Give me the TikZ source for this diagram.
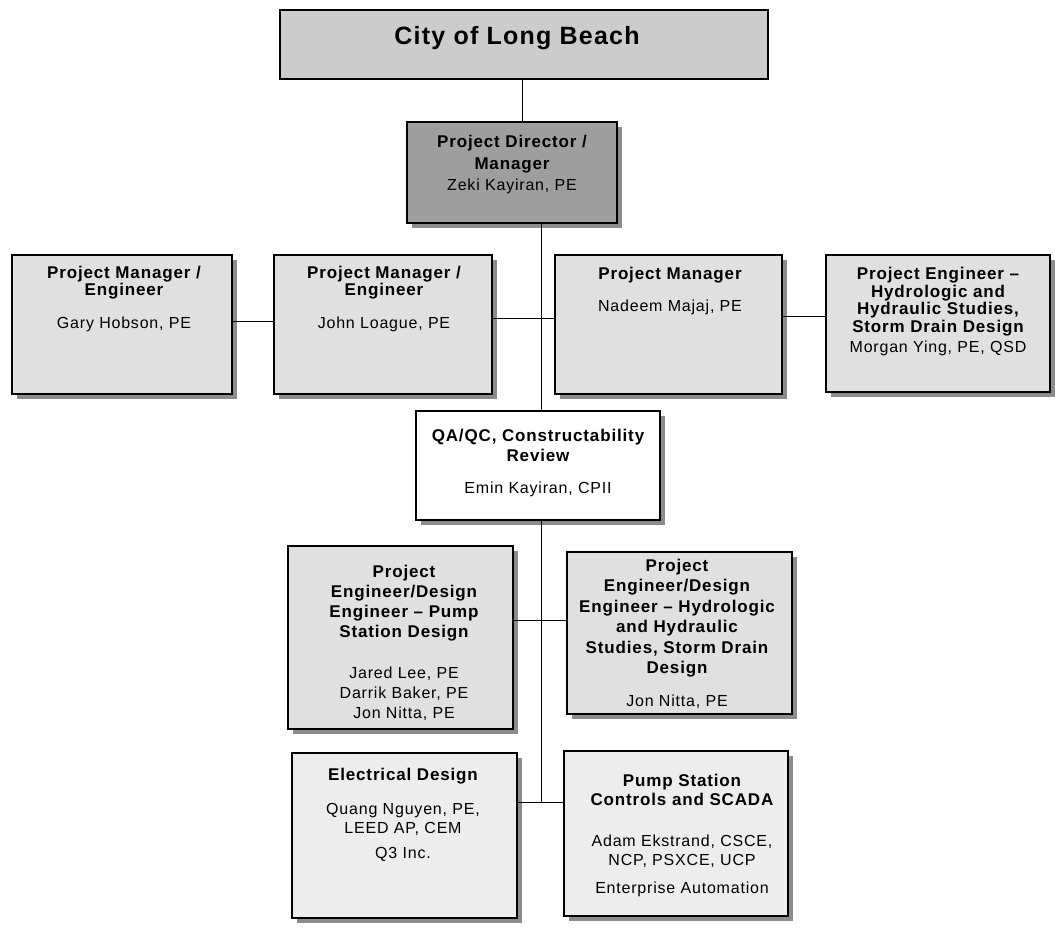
\documentclass[tikz,border=0pt]{standalone}
\usepackage{fontspec}
\setmainfont{Liberation Sans}[LetterSpace=5]
\usetikzlibrary{shadows}
\definecolor{topgray}{gray}{0.80}
\definecolor{dirgray}{gray}{0.62}
\definecolor{boxgray}{gray}{0.88}
\definecolor{lightgray}{gray}{0.93}
\definecolor{shadowgray}{gray}{0.55}
\newcommand\tb[1]{{\fontsize{17}{19}\selectfont\bfseries #1}}
\newcommand\nm[1]{{\fontsize{16}{19}\selectfont #1}}
\tikzset{
  box/.style={draw=black, line width=1.2pt, inner sep=0pt, outer sep=0pt},
  shad/.style={drop shadow={shadow xshift=5pt, shadow yshift=-5pt, fill=shadowgray, opacity=1}},
  lbl/.style={anchor=north, align=center, inner sep=0pt},
  conn/.style={draw=black, line width=0.9pt},
}
\begin{document}
\begin{tikzpicture}[x=1pt, y=-1pt]
\useasboundingbox (0,0) rectangle (1055,928);
% boxes
\node[box, fill=topgray, minimum width=488pt, minimum height=69pt] (top) at (524,44.5) {};
\node[box, shad, fill=dirgray, minimum width=210pt, minimum height=101pt] (dir) at (512,172.5) {};
\node[box, shad, fill=boxgray, minimum width=220pt, minimum height=139pt] (b1) at (122,324.5) {};
\node[box, shad, fill=boxgray, minimum width=218pt, minimum height=139pt] (b2) at (383,324.5) {};
\node[box, shad, fill=boxgray, minimum width=227pt, minimum height=139pt] (b3) at (668.5,324.5) {};
\node[box, shad, fill=boxgray, minimum width=224pt, minimum height=137pt] (b4) at (938,323.5) {};
\node[box, shad, fill=white, minimum width=244pt, minimum height=109pt] (qa) at (538,465.5) {};
\node[box, shad, fill=boxgray, minimum width=225pt, minimum height=183pt] (b5) at (400.5,637.5) {};
\node[box, shad, fill=boxgray, minimum width=225pt, minimum height=162pt] (b6) at (679.5,633) {};
\node[box, shad, fill=lightgray, minimum width=225pt, minimum height=165pt] (b7) at (404.5,835.5) {};
\node[box, shad, fill=lightgray, minimum width=224pt, minimum height=165pt] (b8) at (676,833.5) {};
% texts
\node[anchor=base, inner sep=0pt, font=\fontsize{25}{28}\selectfont\bfseries] (ttop) at (517,45) {City of Long Beach};
\node[lbl, font=\fontsize{17}{21.5}\selectfont] (tdir) at (512,135) {\tb{Project Director /}\\ \tb{Manager}\\ \nm{Zeki Kayiran, PE}};
\node[lbl, font=\fontsize{17}{17.5}\selectfont] (tb1) at (124,265.5) {\tb{Project Manager /}\\ \tb{Engineer}\\[15.5pt] \nm{Gary Hobson, PE}};
\node[lbl, font=\fontsize{17}{17.5}\selectfont] (tb2) at (384,265.5) {\tb{Project Manager /}\\ \tb{Engineer}\\[15.5pt] \nm{John Loague, PE}};
\node[lbl, font=\fontsize{17}{17.5}\selectfont] (tb3) at (670,266.5) {\tb{Project Manager}\\[14.5pt] \nm{Nadeem Majaj, PE}};
\node[lbl, font=\fontsize{17}{17.5}\selectfont] (tb4) at (938,267) {\tb{Project Engineer --}\\ \tb{Hydrologic and}\\ \tb{Hydraulic Studies,}\\ \tb{Storm Drain Design}\\[2.5pt] \nm{Morgan Ying, PE, QSD}};
\node[lbl, font=\fontsize{17}{20}\selectfont] (tqa) at (538,428.5) {\tb{QA/QC, Constructability}\\ \tb{Review}\\[12pt] \nm{Emin Kayiran, CPII}};
\node[lbl, font=\fontsize{17}{20}\selectfont] (tb5) at (404,565) {\tb{Project}\\ \tb{Engineer/Design}\\ \tb{Engineer -- Pump}\\ \tb{Station Design}\\[21pt] \nm{Jared Lee, PE}\\ \nm{Darrik Baker, PE}\\ \nm{Jon Nitta, PE}};
\node[lbl, font=\fontsize{17}{20.5}\selectfont] (tb6) at (677,558.5) {\tb{Project}\\ \tb{Engineer/Design}\\ \tb{Engineer -- Hydrologic}\\ \tb{and Hydraulic}\\ \tb{Studies, Storm Drain}\\ \tb{Design}\\[12pt] \nm{Jon Nitta, PE}};
\node[lbl, font=\fontsize{17}{19}\selectfont] (tb7) at (403,767.5) {\tb{Electrical Design}\\[15pt] \nm{Quang Nguyen, PE,}\\ \nm{LEED AP, CEM}\\[6pt] \nm{Q3 Inc.}};
\node[lbl, font=\fontsize{17}{19}\selectfont] (tb8) at (682,773.5) {\tb{Pump Station}\\ \tb{Controls and SCADA}\\[22pt] \nm{Adam Ekstrand, CSCE,}\\ \nm{NCP, PSXCE, UCP}\\[9pt] \nm{Enterprise Automation}};
% connectors
\coordinate (ca) at (522,100);
\coordinate (spine) at (541,0);
\coordinate (j4) at (541,802);
\coordinate (h1) at (0,321);
\coordinate (h2) at (0,318);
\coordinate (h3) at (0,316);
\coordinate (h4) at (0,620);
\draw[conn] (top.south -| ca) -- (dir.north -| ca);
\draw[conn] (dir.south -| spine) -- (qa.north -| spine);
\draw[conn] (qa.south -| spine) -- (j4);
\draw[conn] (b1.east |- h1) -- (b2.west |- h1);
\draw[conn] (b2.east |- h2) -- (b3.west |- h2);
\draw[conn] (b3.east |- h3) -- (b4.west |- h3);
\draw[conn] (b5.east |- h4) -- (b6.west |- h4);
\draw[conn] (b7.east |- j4) -- (b8.west |- j4);
\end{tikzpicture}
\end{document}
